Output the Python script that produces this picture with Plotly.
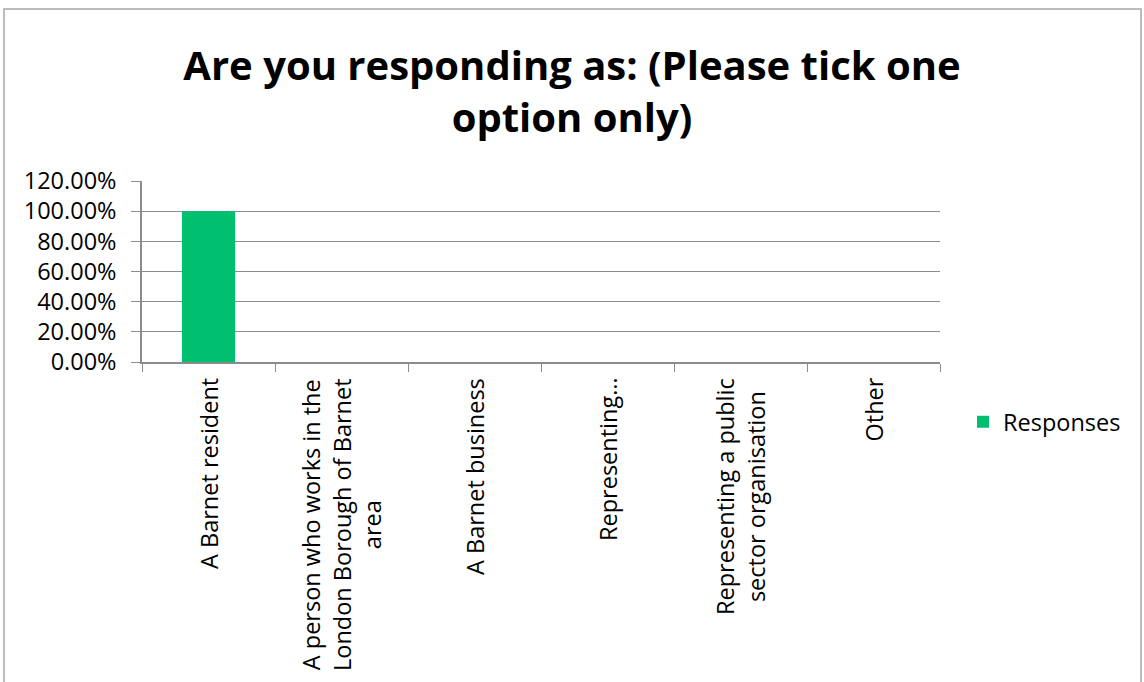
import plotly.graph_objects as go

# Survey answers and the share of responses for each
categories = [
    "A Barnet resident",
    "A person who works in the<br>London Borough of Barnet<br>area",
    "A Barnet business",
    "Representing…",
    "Representing a public<br>sector organisation",
    "Other",
]
responses = [1.0, 0.0, 0.0, 0.0, 0.0, 0.0]
series_name = "Responses"
title_text = "Are you responding as: (Please tick one<br>option only)"

W, H = 1144, 682
M_L, M_R, M_T, M_B = 142, 204, 181, 320
plot_w = W - M_L - M_R
plot_h = H - M_T - M_B

FONT = "Open Sans"
GRID = "#8c8c8c"
LABEL_SIZE = 23.5

fig = go.Figure()
fig.add_trace(go.Bar(
    x=list(range(len(categories))),
    y=responses,
    name=series_name,
    marker=dict(color="#00BF6F", line=dict(width=0)),
    showlegend=True,
))

# Category labels, rotated and centred under each slot
for i, lab in enumerate(categories):
    fig.add_annotation(
        x=i, xref="x", y=-14 / plot_h, yref="paper",
        text=lab, textangle=-90, showarrow=False,
        xanchor="center", yanchor="top", align="center",
        font=dict(family=FONT, size=LABEL_SIZE, color="#000000"),
    )

# Chart frame
fig.add_shape(
    type="rect", xref="paper", yref="paper",
    x0=(4 - M_L) / plot_w, x1=(1141 - M_L) / plot_w,
    y0=(M_T + plot_h - 700) / plot_h, y1=(M_T + plot_h - 9) / plot_h,
    line=dict(color="#a6a6a6", width=1.5), fillcolor="rgba(0,0,0,0)", layer="below",
)

fig.update_layout(
    width=W, height=H,
    margin=dict(l=M_L, r=M_R, t=M_T, b=M_B, autoexpand=False),
    paper_bgcolor="white", plot_bgcolor="white",
    title=dict(
        text="<b>" + title_text + "</b>",
        x=0.5, xanchor="center", xref="container",
        y=1 - 80 / H, yanchor="middle", yref="container",
        font=dict(family=FONT, size=40, color="#000000"),
    ),
    bargap=0.6,
    legend=dict(
        x=(963 - M_L) / plot_w, xanchor="left",
        y=(M_T + plot_h - 422) / plot_h, yanchor="middle",
        font=dict(family=FONT, size=LABEL_SIZE, color="#000000"),
        itemwidth=30, bgcolor="rgba(0,0,0,0)",
    ),
    showlegend=True,
)

fig.update_xaxes(
    type="linear", range=[-0.5, len(categories) - 0.5],
    tickvals=[i - 0.5 for i in range(len(categories) + 1)],
    showticklabels=False, ticks="outside", ticklen=8, tickcolor=GRID,
    showline=True, linecolor=GRID, linewidth=1.5,
    showgrid=False, zeroline=False, fixedrange=True,
)
fig.update_yaxes(
    range=[0, 1.2], tickvals=[0, 0.2, 0.4, 0.6, 0.8, 1.0, 1.2],
    tickformat=".2%", ticks="outside", ticklen=9, tickcolor=GRID,
    showline=True, linecolor=GRID, linewidth=1.5,
    showgrid=True, gridcolor=GRID, gridwidth=1, zeroline=False,
    tickfont=dict(family=FONT, size=LABEL_SIZE, color="#000000"),
    ticklabelstandoff=10,
)

fig.write_html("out.html")
